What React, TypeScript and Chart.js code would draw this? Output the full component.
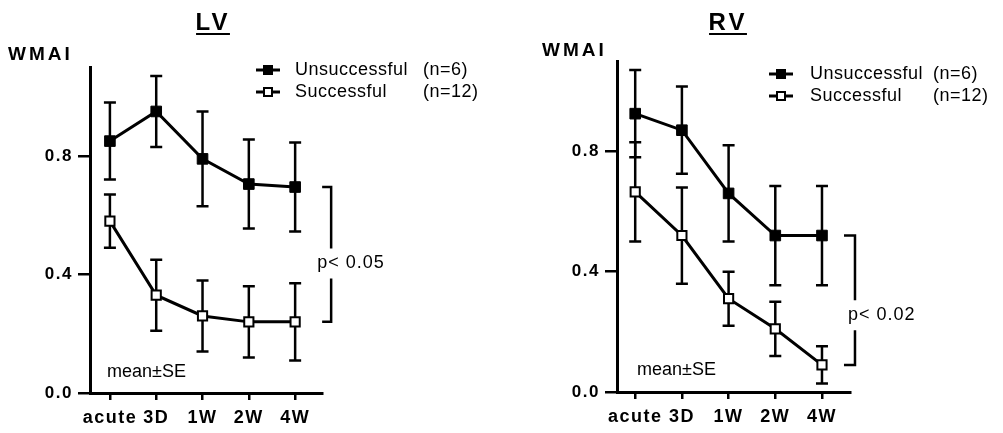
import React, { useEffect, useRef } from 'react';
import { Chart, registerables } from 'chart.js';

Chart.register(...registerables);

// ---------------- data ----------------
const categories = ['acute', '3D', '1W', '2W', '4W'];
const yTickValues = [0, 0.4, 0.8];
const seriesNames = ['Unsuccessful', 'Successful'];
const seriesCounts = ['(n=6)', '(n=12)'];
const yAxisTitle = 'WMAI';
const noteText = 'mean±SE';

const lvTitle = 'LV';
const lvUnsuccessfulMean = [0.85, 0.95, 0.79, 0.705, 0.695];
const lvUnsuccessfulSE = [0.13, 0.12, 0.16, 0.15, 0.15];
const lvSuccessfulMean = [0.58, 0.33, 0.26, 0.24, 0.24];
const lvSuccessfulSE = [0.09, 0.12, 0.12, 0.12, 0.13];
const lvPValue = 'p< 0.05';

const rvTitle = 'RV';
const rvUnsuccessfulMean = [0.925, 0.87, 0.66, 0.52, 0.52];
const rvUnsuccessfulSE = [0.145, 0.145, 0.16, 0.165, 0.165];
const rvSuccessfulMean = [0.665, 0.52, 0.31, 0.21, 0.09];
const rvSuccessfulSE = [0.165, 0.16, 0.09, 0.09, 0.062];
const rvPValue = 'p< 0.02';

// ---------------- styling / layout ----------------
const FONT = '"Liberation Sans", Arial, Helvetica, sans-serif';
const H = 433;

type Layout = {
  left: number; width: number; axisLeft: number; plotTop: number; plotRight: number;
  xAxisHeight: number; xMin: number; xMax: number;
  titleX: number; titleY: number; wmaiX: number; wmaiY: number;
  legendMarkerX: number; legendTextX: number; legendCountX: number; legendY: number[];
  noteX: number; noteY: number;
  bracketTickDx: number; bracketDx: number; pTextDx: number; pTextDy: number;
};

const lvLayout: Layout = {
  left: 0, width: 500, axisLeft: 90, plotTop: 67, plotRight: 322,
  xAxisHeight: 40, xMin: -0.43, xMax: 4.58,
  titleX: 213, titleY: 23, wmaiX: 8, wmaiY: 55,
  legendMarkerX: 268, legendTextX: 295, legendCountX: 423, legendY: [70, 92],
  noteX: 107, noteY: 372,
  bracketTickDx: 27, bracketDx: 36, pTextDx: -14, pTextDy: 9,
};

const rvLayout: Layout = {
  left: 500, width: 503, axisLeft: 117, plotTop: 61, plotRight: 350,
  xAxisHeight: 41, xMin: -0.39, xMax: 4.6,
  titleX: 228, titleY: 23, wmaiX: 42, wmaiY: 51,
  legendMarkerX: 281, legendTextX: 310, legendCountX: 433, legendY: [74, 96],
  noteX: 137, noteY: 370,
  bracketTickDx: 22, bracketDx: 33, pTextDx: -7, pTextDy: 15,
};

type PanelCfg = {
  title: string; means: number[][]; errors: number[][]; pValue: string; layout: Layout;
};

const lvPanel: PanelCfg = {
  title: lvTitle,
  means: [lvUnsuccessfulMean, lvSuccessfulMean],
  errors: [lvUnsuccessfulSE, lvSuccessfulSE],
  pValue: lvPValue,
  layout: lvLayout,
};
const rvPanel: PanelCfg = {
  title: rvTitle,
  means: [rvUnsuccessfulMean, rvSuccessfulMean],
  errors: [rvUnsuccessfulSE, rvSuccessfulSE],
  pValue: rvPValue,
  layout: rvLayout,
};

function makeDecorPlugin(cfg: PanelCfg) {
  const L = cfg.layout;
  return {
    id: 'panelDecor',
    beforeDraw(chart: any) {
      chart.ctx.letterSpacing = '1.5px';
    },
    beforeDatasetsDraw(chart: any) {
      const { ctx } = chart;
      const xs = chart.scales.x;
      const ys = chart.scales.y;
      ctx.save();
      ctx.strokeStyle = '#000';
      ctx.lineWidth = 2.5;
      cfg.means.forEach((means, di) => {
        const se = cfg.errors[di];
        means.forEach((m, i) => {
          const px = xs.getPixelForValue(i);
          const top = ys.getPixelForValue(m + se[i]);
          const bot = ys.getPixelForValue(m - se[i]);
          ctx.beginPath();
          ctx.moveTo(px, top); ctx.lineTo(px, bot);
          ctx.moveTo(px - 6, top); ctx.lineTo(px + 6, top);
          ctx.moveTo(px - 6, bot); ctx.lineTo(px + 6, bot);
          ctx.stroke();
        });
      });
      ctx.restore();
    },
    afterDraw(chart: any) {
      const { ctx } = chart;
      const xs = chart.scales.x;
      const ys = chart.scales.y;
      ctx.save();
      ctx.fillStyle = '#000';
      ctx.strokeStyle = '#000';

      // title with underline
      ctx.font = `bold 24px ${FONT}`;
      ctx.letterSpacing = '3px';
      ctx.textAlign = 'center';
      ctx.textBaseline = 'middle';
      ctx.fillText(cfg.title, L.titleX, L.titleY);
      const tw = ctx.measureText(cfg.title).width - 3;
      ctx.lineWidth = 2;
      ctx.beginPath();
      ctx.moveTo(L.titleX - tw / 2 - 1, L.titleY + 11);
      ctx.lineTo(L.titleX + tw / 2 + 1, L.titleY + 11);
      ctx.stroke();

      // axis title
      ctx.font = `bold 19px ${FONT}`;
      ctx.letterSpacing = '3px';
      ctx.textAlign = 'left';
      ctx.fillText(yAxisTitle, L.wmaiX, L.wmaiY);

      // legend
      ctx.font = `18px ${FONT}`;
      ctx.letterSpacing = '0.5px';
      seriesNames.forEach((name, i) => {
        const y = L.legendY[i];
        ctx.lineWidth = 3;
        ctx.beginPath();
        ctx.moveTo(L.legendMarkerX - 12, y);
        ctx.lineTo(L.legendMarkerX + 12, y);
        ctx.stroke();
        if (i === 0) {
          ctx.fillStyle = '#000';
          ctx.fillRect(L.legendMarkerX - 5, y - 5, 10, 10);
        } else {
          ctx.fillStyle = '#fff';
          ctx.fillRect(L.legendMarkerX - 4, y - 4, 8, 8);
          ctx.lineWidth = 2;
          ctx.strokeRect(L.legendMarkerX - 4, y - 4, 8, 8);
        }
        ctx.fillStyle = '#000';
        ctx.fillText(name, L.legendTextX, y);
        ctx.fillText(seriesCounts[i], L.legendCountX, y);
      });

      // note
      ctx.letterSpacing = '0px';
      ctx.fillText(noteText, L.noteX, L.noteY);

      // significance bracket
      const last = categories.length - 1;
      const x4 = xs.getPixelForValue(last);
      const yTop = ys.getPixelForValue(cfg.means[0][last]);
      const yBot = ys.getPixelForValue(cfg.means[1][last]);
      const bx = x4 + L.bracketDx;
      const tx = x4 + L.bracketTickDx;
      const ty = (yTop + yBot) / 2 + L.pTextDy;
      ctx.lineWidth = 2.5;
      ctx.beginPath();
      ctx.moveTo(tx, yTop); ctx.lineTo(bx, yTop); ctx.lineTo(bx, ty - 15);
      ctx.moveTo(bx, ty + 15); ctx.lineTo(bx, yBot); ctx.lineTo(tx, yBot);
      ctx.stroke();
      ctx.font = `18px ${FONT}`;
      ctx.letterSpacing = '1px';
      ctx.fillText(cfg.pValue, bx + L.pTextDx, ty);
      ctx.restore();
    },
  };
}

function Panel({ cfg }: { cfg: PanelCfg }) {
  const ref = useRef<HTMLCanvasElement>(null);
  useEffect(() => {
    const L = cfg.layout;
    const chart = new Chart(ref.current as HTMLCanvasElement, {
      type: 'line',
      data: {
        datasets: [
          {
            label: seriesNames[0],
            data: cfg.means[0].map((v, i) => ({ x: i, y: v })),
            borderColor: '#000',
            borderWidth: 3,
            pointStyle: 'rect',
            pointRadius: 7.5,
            pointBackgroundColor: '#000',
            pointBorderColor: '#000',
            pointBorderWidth: 1,
            tension: 0,
          },
          {
            label: seriesNames[1],
            data: cfg.means[1].map((v, i) => ({ x: i, y: v })),
            borderColor: '#000',
            borderWidth: 3,
            pointStyle: 'rect',
            pointRadius: 6.5,
            pointBackgroundColor: '#fff',
            pointBorderColor: '#000',
            pointBorderWidth: 2,
            tension: 0,
          },
        ],
      },
      options: {
        animation: false,
        responsive: false,
        maintainAspectRatio: false,
        events: [],
        layout: { padding: { left: 0, top: L.plotTop, right: L.width - L.plotRight, bottom: 0 } },
        plugins: { legend: { display: false }, tooltip: { enabled: false }, title: { display: false } },
        scales: {
          x: {
            type: 'linear',
            min: L.xMin,
            max: L.xMax,
            afterBuildTicks: (s: any) => { s.ticks = categories.map((_, i) => ({ value: i })); },
            afterFit: (s: any) => { s.height = L.xAxisHeight; },
            grid: { drawOnChartArea: false, drawTicks: true, tickLength: 7, color: '#000', lineWidth: 2.5 },
            border: { display: true, color: '#000', width: 3 },
            ticks: {
              callback: (v: any) => categories[v] ?? '',
              autoSkip: false,
              maxRotation: 0,
              minRotation: 0,
              padding: 7,
              color: '#000',
              font: { family: FONT, size: 18, weight: 'bold' },
            },
          },
          y: {
            type: 'linear',
            min: 0,
            max: 1.1,
            afterBuildTicks: (s: any) => { s.ticks = yTickValues.map((v) => ({ value: v })); },
            afterFit: (s: any) => { s.width = L.axisLeft; },
            grid: { drawOnChartArea: false, drawTicks: true, tickLength: 12, color: '#000', lineWidth: 2.5 },
            border: { display: true, color: '#000', width: 3 },
            ticks: {
              callback: (v: any) => Number(v).toFixed(1),
              padding: 5,
              color: '#000',
              font: { family: FONT, size: 17, weight: 'bold' },
            },
          },
        },
      } as any,
      plugins: [makeDecorPlugin(cfg)],
    });
    return () => chart.destroy();
  }, [cfg]);
  const L = cfg.layout;
  return (
    <canvas
      ref={ref}
      width={L.width}
      height={H}
      style={{ position: 'absolute', left: L.left, top: 0, width: L.width, height: H }}
    />
  );
}

export default function App() {
  return (
    <div style={{ position: 'fixed', left: 0, top: 0, width: 1003, height: H, background: '#fff', overflow: 'hidden' }}>
      <Panel cfg={lvPanel} />
      <Panel cfg={rvPanel} />
    </div>
  );
}
